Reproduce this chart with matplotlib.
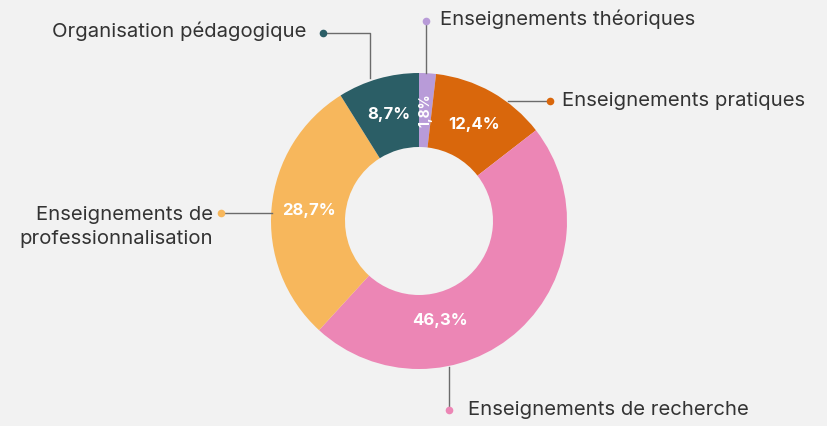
import numpy as np
import matplotlib
matplotlib.use("Agg")
import matplotlib.pyplot as plt

categories = ["Enseignements théoriques", "Enseignements pratiques",
              "Enseignements de recherche", "Enseignements de\nprofessionnalisation",
              "Organisation pédagogique"]
values = [1.8, 12.4, 46.3, 28.7, 8.7]
pct_labels = ["1,8%", "12,4%", "46,3%", "28,7%", "8,7%"]
colors = ["#b89bd8", "#d9670c", "#ec86b5", "#f7b75c", "#2b5e66"]

BG = "#f2f2f2"
plt.rcParams['font.family'] = ['Inter', 'DejaVu Sans']

fig = plt.figure(figsize=(8.27, 4.26), dpi=100, facecolor=BG)
ax = fig.add_axes([0, 0, 1, 1])
ax.set_facecolor(BG)

cx, cy, R, w = 419, 221, 148, 74
wedges, _ = ax.pie(values, colors=colors, startangle=-90, counterclock=True,
                   center=(cx, cy), radius=R, wedgeprops=dict(width=w, linewidth=0),
                   frame=True)
ax.set_xlim(0, 827)
ax.set_ylim(426, 0)
ax.set_aspect('equal')
ax.axis('off')

rmid = R - w / 2
for i, (wd, lab) in enumerate(zip(wedges, pct_labels)):
    ang = np.deg2rad((wd.theta1 + wd.theta2) / 2)
    r = rmid
    if i == 2:
        ang = np.deg2rad(-90 + 168)
        r = 102
    x = cx + r * np.cos(ang)
    y = cy + r * np.sin(ang)
    ax.text(x, y, lab, color="white", fontsize=12 if i else 10, fontweight="bold",
            ha="center", va="center", rotation=90 if i == 0 else 0)

line_c = "#6b6b6b"
txt_c = "#333333"
fs = 14.6

def leader(pts, dot, color):
    xs, ys = zip(*pts)
    ax.plot(xs, ys, color=line_c, lw=1)
    ax.plot([dot[0]], [dot[1]], 'o', color=color, ms=5.5, mec='none')

# théoriques
leader([(426, 73), (426, 21)], (426, 21), colors[0])
ax.text(440, 19, categories[0], color=txt_c, fontsize=fs, ha="left", va="center")
# pratiques
leader([(508, 101), (550, 101)], (550, 101), colors[1])
ax.text(562, 101, categories[1], color=txt_c, fontsize=fs, ha="left", va="center")
# recherche
leader([(449, 367), (449, 410)], (449, 410), colors[2])
ax.text(468, 410, categories[2], color=txt_c, fontsize=fs, ha="left", va="center")
# professionnalisation
leader([(272, 213), (221, 213)], (221, 213), colors[3])
ax.text(213, 227, categories[3], color=txt_c, fontsize=fs, ha="right", va="center",
        multialignment="right", linespacing=1.4)
# organisation
leader([(370, 78), (370, 33), (323, 33)], (323, 33), colors[4])
ax.text(306, 31, categories[4], color=txt_c, fontsize=fs, ha="right", va="center")

fig.savefig("out.png", dpi=100, facecolor=BG)
